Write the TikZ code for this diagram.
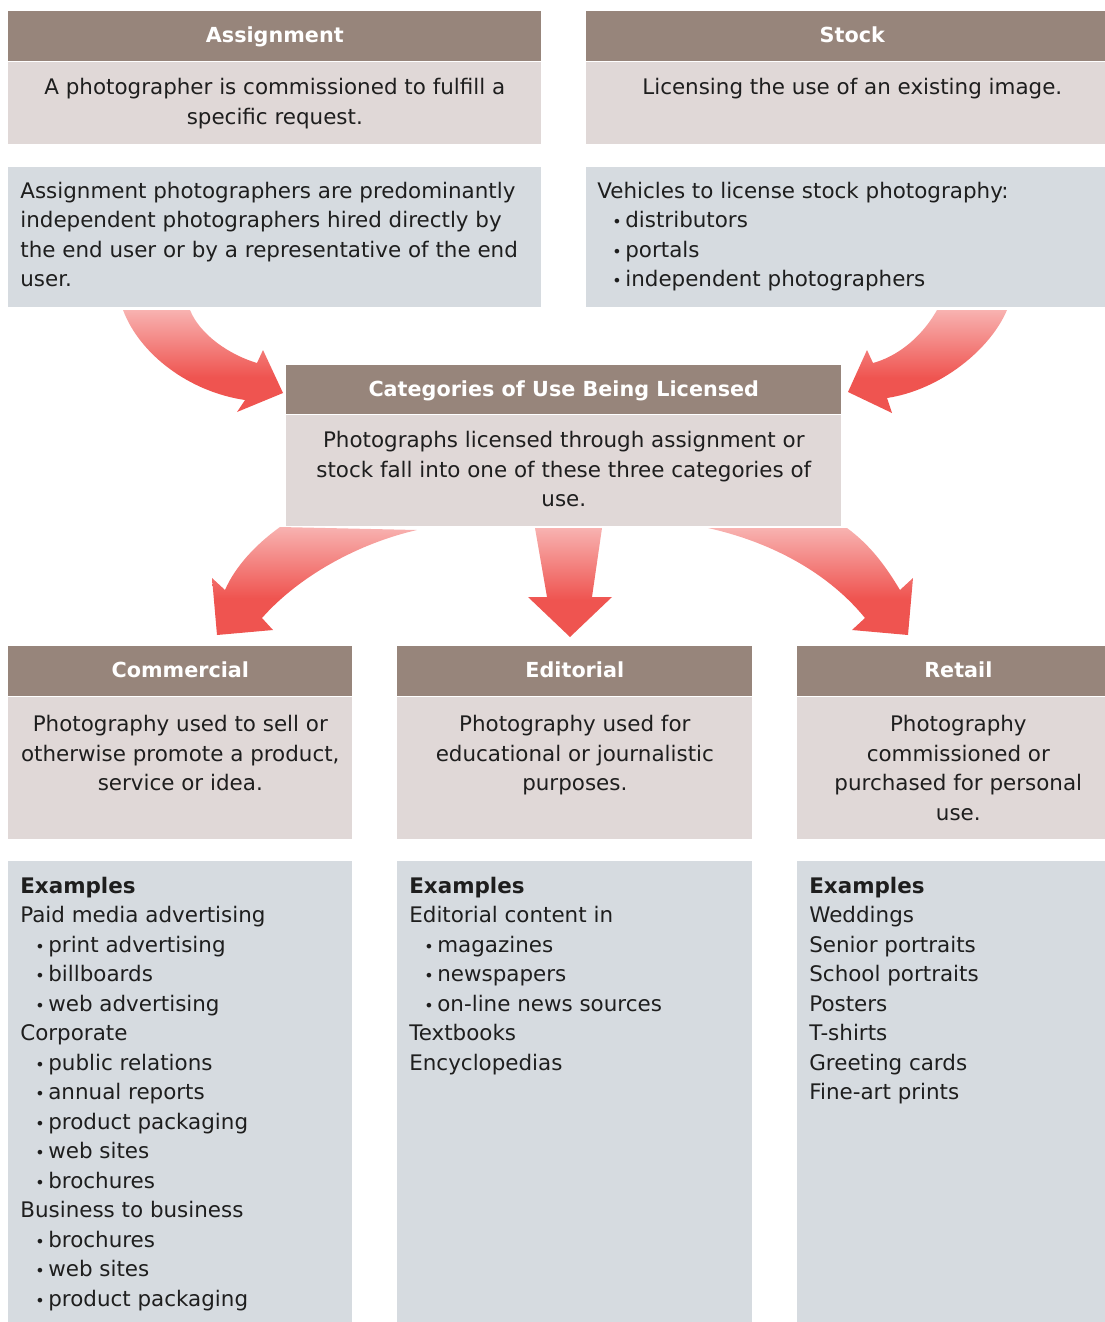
\documentclass[tikz,border=0pt]{standalone}
\usepackage{fontspec}
\setmainfont{DejaVu Sans}
\usetikzlibrary{positioning}

\definecolor{headbrown}{RGB}{151,133,123}
\definecolor{descpink}{RGB}{224,216,215}
\definecolor{infoblue}{RGB}{214,219,224}
\definecolor{arrowred}{RGB}{239,84,80}
\definecolor{bodytext}{RGB}{30,30,30}

\pgfdeclareverticalshading{redfade}{100bp}{color(0bp)=(arrowred); color(42bp)=(arrowred); color(72bp)=(arrowred!50); color(100bp)=(white)}

\newcommand{\itm}{\hspace*{0.3cm}\makebox[0.26cm][l]{\small•}}

\begin{document}
\begin{tikzpicture}[
        x=0.02cm, y=-0.02cm,
        head/.style={rectangle, fill=headbrown, anchor=north west, inner sep=0pt, minimum height=1cm, text height=0.8em, text depth=0.05em, text=white, font=\fontsize{11.8}{14}\selectfont\bfseries},
        panel/.style={rectangle, anchor=north west, inner sep=0pt},
        desc/.style={anchor=north, inner sep=0pt, align=center, text=bodytext, font=\fontsize{12.2}{16.8}\selectfont},
        info/.style={anchor=north west, inner sep=0pt, align=left, text=bodytext, font=\fontsize{12.2}{16.8}\selectfont},
        fatarrow/.style={shading=redfade},
    ]
    \useasboundingbox (0,0) rectangle (1105,1322);
    \clip (0,0) rectangle (1105,1322);

    % top row
    \node[head, minimum width=10.66cm] (ahead) at (8,11) {Assignment};
    \node[panel, fill=descpink, minimum width=10.66cm, minimum height=1.64cm] (adesc) at (ahead.south west) {};
    \node[desc] (adesc-t) at ([yshift=-0.33cm]adesc.north) {A photographer is commissioned to fulfill a\\specific request.};
    \node[panel, fill=infoblue, minimum width=10.66cm, minimum height=2.8cm] (ainfo) at (8,167) {};
    \node[info] (ainfo-t) at ([xshift=0.24cm, yshift=-0.29cm]ainfo.north west) {Assignment photographers are predominantly\\independent photographers hired directly by\\the end user or by a representative of the end\\user.};

    \node[head, minimum width=10.64cm] (shead) at (586,11) {Stock};
    \node[panel, fill=descpink, minimum width=10.64cm, minimum height=1.64cm] (sdesc) at (shead.south west) {};
    \node[desc] (sdesc-t) at ([yshift=-0.33cm]sdesc.north) {Licensing the use of an existing image.};
    \node[panel, fill=infoblue, minimum width=10.64cm, minimum height=2.8cm] (sinfo) at (586,167) {};
    \node[info] (sinfo-t) at ([xshift=0.22cm, yshift=-0.29cm]sinfo.north west) {Vehicles to license stock photography:\\\itm distributors\\\itm portals\\\itm independent photographers};

    % middle
    \node[head, minimum width=11.1cm, minimum height=0.98cm] (chead) at (286,365) {Categories of Use Being Licensed};
    \node[panel, fill=descpink, minimum width=11.1cm, minimum height=2.22cm] (cdesc) at (chead.south west) {};
    \node[desc] (cdesc-t) at ([yshift=-0.33cm]cdesc.north) {Photographs licensed through assignment or\\stock fall into one of these three categories of\\use.};

    % bottom row
    \node[head, minimum width=6.88cm] (mhead) at (8,646) {Commercial};
    \node[panel, fill=descpink, minimum width=6.88cm, minimum height=2.84cm] (mdesc) at (mhead.south west) {};
    \node[desc] (mdesc-t) at ([yshift=-0.37cm]mdesc.north) {Photography used to sell or\\otherwise promote a product,\\service or idea.};
    \node[panel, fill=infoblue, minimum width=6.88cm, minimum height=9.5cm] (mex) at (8,861) {};
    \node[info] (mex-t) at ([xshift=0.24cm, yshift=-0.31cm]mex.north west) {\textbf{Examples}\\Paid media advertising\\\itm print advertising\\\itm billboards\\\itm web advertising\\Corporate\\\itm public relations\\\itm annual reports\\\itm product packaging\\\itm web sites\\\itm brochures\\Business to business\\\itm brochures\\\itm web sites\\\itm product packaging};

    \node[head, minimum width=7.1cm] (ehead) at (397,646) {Editorial};
    \node[panel, fill=descpink, minimum width=7.1cm, minimum height=2.84cm] (edesc) at (ehead.south west) {};
    \node[desc] (edesc-t) at ([yshift=-0.37cm]edesc.north) {Photography used for\\educational or journalistic\\purposes.};
    \node[panel, fill=infoblue, minimum width=7.1cm, minimum height=9.5cm] (eex) at (397,861) {};
    \node[info] (eex-t) at ([xshift=0.24cm, yshift=-0.31cm]eex.north west) {\textbf{Examples}\\Editorial content in\\\itm magazines\\\itm newspapers\\\itm on-line news sources\\Textbooks\\Encyclopedias};

    \node[head, minimum width=6.44cm] (rhead) at (797,646) {Retail};
    \node[panel, fill=descpink, minimum width=6.44cm, minimum height=2.84cm] (rdesc) at (rhead.south west) {};
    \node[desc] (rdesc-t) at ([yshift=-0.37cm]rdesc.north) {Photography\\commissioned or\\purchased for personal\\use.};
    \node[panel, fill=infoblue, minimum width=6.44cm, minimum height=9.5cm] (rex) at (797,861) {};
    \node[info] (rex-t) at ([xshift=0.24cm, yshift=-0.31cm]rex.north west) {\textbf{Examples}\\Weddings\\Senior portraits\\School portraits\\Posters\\T-shirts\\Greeting cards\\Fine-art prints};

    % fat arrows
    \shade[fatarrow] (123,310) .. controls (140,355) and (190,392) .. (245,400) -- (237,412) -- (283,393) -- (263,350) -- (257,363) .. controls (230,355) and (200,335) .. (190,310) -- cycle;
    \shade[fatarrow] (937,310) .. controls (920,340) and (895,357) .. (873,363) -- (867,350) -- (848,392) -- (892,413) -- (887,398) .. controls (940,390) and (990,350) .. (1007,310) -- cycle;
    \shade[fatarrow] (280,527) .. controls (255,545) and (235,567) .. (225,590) -- (212,578) -- (217,635) -- (273,630) -- (262,618) .. controls (300,575) and (360,543) .. (417,530) -- cycle;
    \shade[fatarrow] (535,528) -- (547,597) -- (528,597) -- (570,637) -- (612,597) -- (592,597) -- (602,528) -- cycle;
    \shade[fatarrow] (708,528) .. controls (775,543) and (830,575) .. (865,618) -- (852,630) -- (908,635) -- (913,578) -- (900,590) .. controls (885,565) and (870,545) .. (847,528) -- cycle;
\end{tikzpicture}
\end{document}
